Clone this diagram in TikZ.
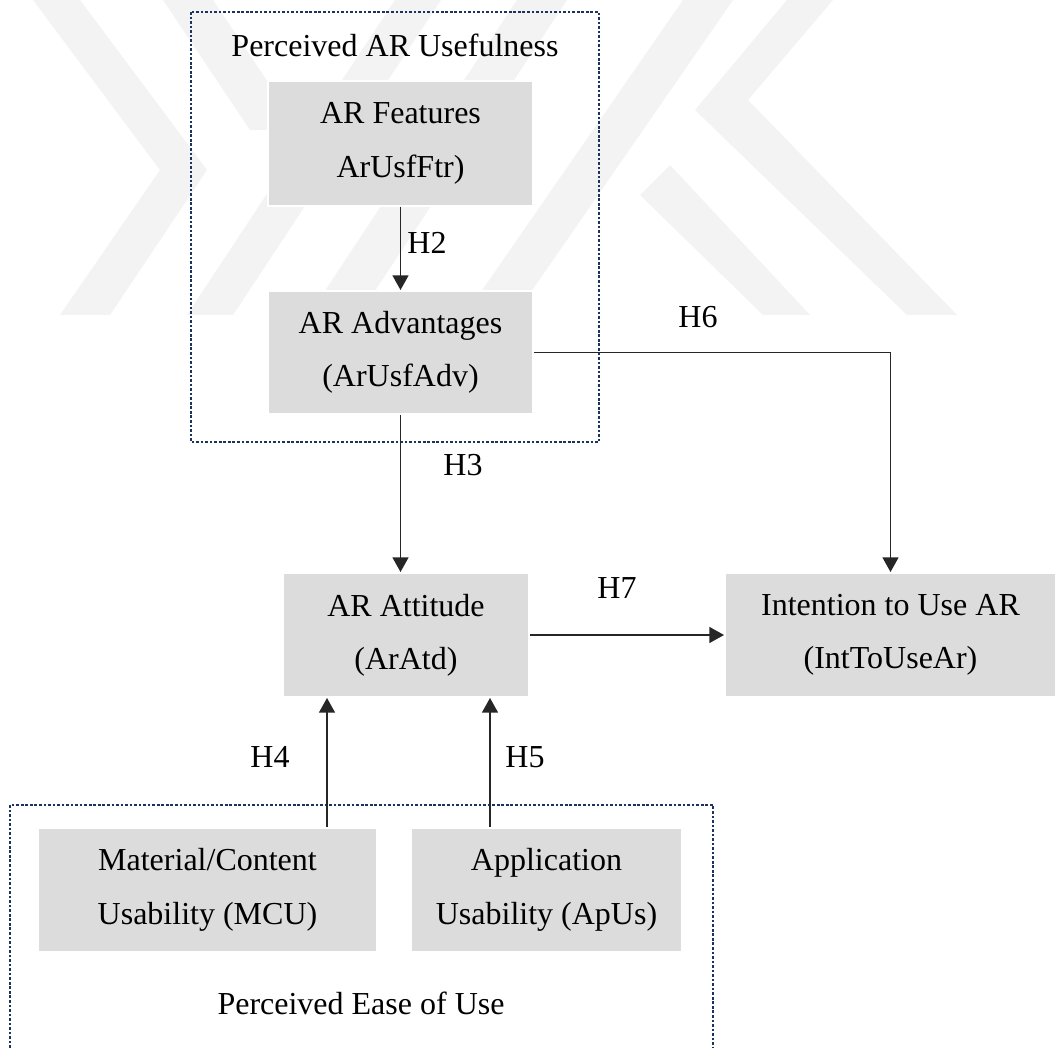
\documentclass[tikz,border=0pt]{standalone}
\usepackage{fontspec}
\setmainfont{Liberation Serif}
\usetikzlibrary{arrows.meta}
\definecolor{boxgray}{RGB}{220,220,220}
\definecolor{framenavy}{RGB}{28,50,95}
\definecolor{markgray}{RGB}{243,243,243}
\begin{document}
\begin{tikzpicture}[x=0.75pt,y=-0.75pt,
  every node/.style={font=\fontsize{24}{40}\selectfont, text=black},
  construct/.style={fill=boxgray, draw=white, line width=1.5pt, inner sep=0pt, align=center},
  link/.style={draw=black!85, line width=1.1pt, -{Triangle[length=11pt,width=12pt]}},
  groupframe/.style={draw=framenavy, line width=2.1pt, dash pattern=on 2pt off 1.4pt},
  hyp/.style={inner sep=0pt}]
\useasboundingbox (0,0) rectangle (1056,1048);
\fill[white] (0,0) rectangle (1056,1048);

% faint emblem behind the upper part
\begin{scope}[fill=markgray]
  \clip (0,0) rectangle (1056,315);
  \fill (33,0) -- (80,0) -- (207,170) -- (110,315) -- (60,315) -- (160,170) -- cycle;
  \fill (163,0) -- (213,0) -- (300,130) -- (250,130) -- cycle;
  \fill (187,315) -- (233,315) -- (441,0) -- (395,0) -- cycle;
  \fill (309,315) -- (359,315) -- (567,0) -- (517,0) -- cycle;
  \fill (465,315) -- (515,315) -- (733,0) -- (683,0) -- cycle;
  \fill (640,195) -- (670,165) -- (810,315) -- (763,315) -- cycle;
  \fill (787,0) -- (833,0) -- (748,100) -- (957,315) -- (907,315) -- (695,110) -- cycle;
\end{scope}

% constructs
\node[construct, minimum width=198.75pt, minimum height=93.75pt] (feat) at (400.5,143.5)
  {\fontsize{24}{41}\selectfont AR Features\\ ArUsfFtr)};
\node[construct, minimum width=198.75pt, minimum height=92.25pt] (adv) at (400.5,352.5)
  {\fontsize{24}{41}\selectfont AR Advantages\\(ArUsfAdv)};
\node[construct, minimum width=184.5pt, minimum height=93pt] (att) at (406,635)
  {AR Attitude\\(ArAtd)};
\node[construct, minimum width=248.25pt, minimum height=93pt] (intent) at (890.5,635)
  {Intention to Use AR\\(IntToUseAr)};
\node[construct, minimum width=254.25pt, minimum height=93pt] (mcu) at (207.5,890)
  {\fontsize{24}{38}\selectfont Material/Content\\Usability (MCU)};
\node[construct, minimum width=203.25pt, minimum height=93pt] (apus) at (546.5,890)
  {\fontsize{24}{38}\selectfont Application\\Usability (ApUs)};

% group frames
\draw[groupframe] (191,12) rectangle (599,442);
\draw[groupframe] (10,1048) -- (10,805) -- (713,805) -- (713,1048);
\node (useful) at (395,45) {Perceived AR Usefulness};
\node (ease) at (361,1003) {Perceived Ease of Use};

% hypotheses
\coordinate (h4x) at (327,0);
\coordinate (h5x) at (490,0);
\draw[link] (feat.south) -- (adv.north);
\draw[link] (adv.south) -- (adv.south |- att.north);
\draw[link] (adv.east) -| (intent.north);
\draw[link] (att.east) -- (intent.west);
\draw[link] (h4x |- mcu.north) -- (h4x |- att.south);
\draw[link] (h5x |- apus.north) -- (h5x |- att.south);

\node[hyp] (h2) at (427,243) {H2};
\node[hyp] (h3) at (463,465) {H3};
\node[hyp] (h6) at (698,317) {H6};
\node[hyp] (h7) at (617,588) {H7};
\node[hyp] (h4) at (270,757) {H4};
\node[hyp] (h5) at (525,757) {H5};
\end{tikzpicture}
\end{document}
